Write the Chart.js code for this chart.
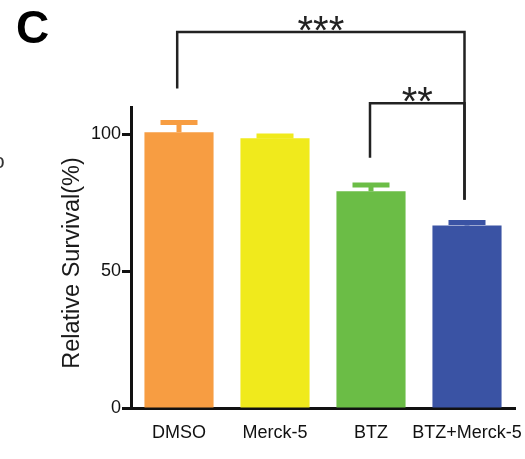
<!DOCTYPE html>
<html>
<head>
<meta charset="utf-8">
<script src="https://cdn.jsdelivr.net/npm/chart.js@4"></script>
<style>
  html, body { margin: 0; padding: 0; background: #fff; }
  #wrap { width: 525px; height: 459px; }
</style>
</head>
<body>
<div id="wrap"><canvas id="survivalChart" width="525" height="459"></canvas></div>
<script>
// values
const groups = ['DMSO', 'Merck-5', 'BTZ', 'BTZ+Merck-5'];
const survival = [100.8, 98.6, 79.2, 66.7];
const errUpper = [104.3, 99.4, 81.5, 67.8];
const barColors = ['#F79D42', '#F0EA1C', '#6BBD46', '#3A53A4'];
const yTicks = [0, 50, 100];
// significance: [from group, to group, label]
const sigPairs = [[0, 3, '***'], [2, 3, '**']];

const FONT = "'Liberation Sans', Arial, sans-serif";

const errorBars = {
    id: 'errorBars',
    afterDatasetsDraw(chart) {
        const ctx = chart.ctx;
        const y = chart.scales.y;
        const meta = chart.getDatasetMeta(0);
        ctx.save();
        meta.data.forEach((bar, i) => {
            const top = y.getPixelForValue(errUpper[i]);
            ctx.strokeStyle = barColors[i];
            ctx.lineWidth = 5;
            ctx.beginPath();
            ctx.moveTo(bar.x, bar.y);
            ctx.lineTo(bar.x, top);
            ctx.stroke();
            ctx.beginPath();
            ctx.moveTo(bar.x - 18.5, top);
            ctx.lineTo(bar.x + 18.5, top);
            ctx.stroke();
        });
        ctx.restore();
    }
};

// bracket heights in axis units (level line, left leg end, right leg end)
const bracketLevels = [
    { line: 137.4, left: 117.2, right: 76.6, dx: -1.8 },
    { line: 111.4, left: 91.9, right: 76.6, dx: -1 }
];

const extras = {
    id: 'extras',
    afterDraw(chart) {
        const ctx = chart.ctx;
        const y = chart.scales.y;
        const meta = chart.getDatasetMeta(0);
        ctx.save();
        ctx.strokeStyle = '#222';
        ctx.lineWidth = 2.5;
        ctx.lineCap = 'square';
        sigPairs.forEach((p, k) => {
            const lv = bracketLevels[k];
            const x1 = meta.data[p[0]].x + lv.dx;
            const x2 = meta.data[p[1]].x - 2.5;
            const yl = y.getPixelForValue(lv.line);
            ctx.beginPath();
            ctx.moveTo(x1, y.getPixelForValue(lv.left));
            ctx.lineTo(x1, yl);
            ctx.lineTo(x2, yl);
            ctx.lineTo(x2, y.getPixelForValue(lv.right));
            ctx.stroke();
            ctx.fillStyle = '#222';
            ctx.font = '40px ' + FONT;
            ctx.textAlign = 'center';
            ctx.textBaseline = 'alphabetic';
            ctx.fillText(p[2], (x1 + x2) / 2, yl + 12);
        });
        // y axis title
        ctx.save();
        ctx.translate(73, 263);
        ctx.rotate(-Math.PI / 2);
        ctx.fillStyle = '#1a1a1a';
        ctx.font = '23.5px ' + FONT;
        ctx.textAlign = 'center';
        ctx.textBaseline = 'middle';
        ctx.fillText('Relative Survival(%)', 0, 0);
        ctx.restore();
        // panel letter
        ctx.fillStyle = '#000';
        ctx.font = 'bold 46px ' + FONT;
        ctx.textAlign = 'left';
        ctx.fillText('C', 16, 43);
        // clipped glyph from neighbouring panel
        ctx.fillStyle = '#333';
        ctx.font = '21px ' + FONT;
        ctx.fillText('o', -7, 168);
        ctx.restore();
    }
};

new Chart(document.getElementById('survivalChart'), {
    type: 'bar',
    data: {
        labels: groups,
        datasets: [{
            data: survival,
            backgroundColor: barColors,
            borderWidth: 0,
            categoryPercentage: 1,
            barPercentage: 0.72
        }]
    },
    options: {
        responsive: false,
        animation: false,
        layout: { padding: { top: 107, right: 10, left: 0, bottom: 0 } },
        plugins: { legend: { display: false }, tooltip: { enabled: false } },
        scales: {
            x: {
                grid: { display: false, drawTicks: false },
                border: { color: '#111', width: 3 },
                ticks: {
                    color: '#111', padding: 14, autoSkip: false,
                    maxRotation: 0, minRotation: 0,
                    font: { family: FONT, size: 18 }
                },
                afterFit(s) {
                    s.height = 51;
                    s.paddingLeft = 0;
                    s.paddingRight = 0;
                }
            },
            y: {
                min: 0,
                max: 110,
                afterBuildTicks(s) { s.ticks = yTicks.map(v => ({ value: v })); },
                grid: { drawOnChartArea: false, tickLength: 9, tickWidth: 3, tickColor: '#111' },
                border: { color: '#111', width: 3 },
                ticks: { color: '#111', padding: 1, font: { family: FONT, size: 18 } },
                afterFit(s) { s.width = 131; }
            }
        }
    },
    plugins: [errorBars, extras]
});
</script>
</body>
</html>
